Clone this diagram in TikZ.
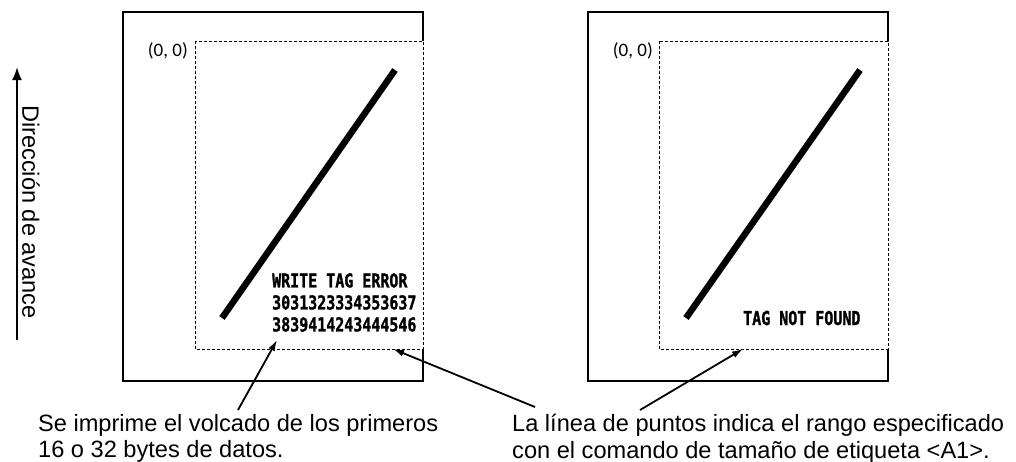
\documentclass[tikz,border=0pt]{standalone}
\usepackage{fontspec}
\setmainfont{Liberation Sans}
\newfontfamily\prnfont[FakeStretch=0.78, FakeBold=1.2]{DejaVu Sans Mono}
\newfontfamily\originfont{Carlito}
\usetikzlibrary{arrows.meta}

\tikzset{
  paper/.style={line width=2pt},
  sizearea/.style={line width=0.8pt, dash pattern=on 3pt off 2pt},
  printbar/.style={line width=6.5pt},
  printtext/.style={font=\prnfont\bfseries\fontsize{19.2}{22}\selectfont, align=left, inner sep=0pt},
  origin/.style={font=\originfont\fontsize{19}{22}\selectfont, inner sep=0pt},
  note/.style={font=\fontsize{23.6}{26.5}\selectfont, align=left, inner sep=0pt},
  pointer/.style={-{Latex[length=11pt,width=7pt]}, line width=1.8pt},
  feed/.style={-{Latex[length=13pt,width=10pt]}, line width=2pt}
}

\begin{document}
\begin{tikzpicture}[x=1pt, y=-1pt]
  \useasboundingbox (0,0) rectangle (1016,461);

  % feed direction
  \coordinate (feedstart) at (17,340);
  \coordinate (feedend) at (17,67);
  \draw[feed] (feedstart) -- (feedend);
  \node[note, rotate=-90] (feedlabel) at (31,212) {Dirección de avance};

  % left label: error with dump
  \draw[paper] (423,41) -- (423,12) -- (123,12) -- (123,381) -- (423,381) -- (423,349);
  \draw[sizearea] (195,41) rectangle (423,349);
  \node[origin, anchor=east] (orgleft) at (188,51) {(0, 0)};
  \coordinate (barlefta) at (222,318);
  \coordinate (barleftb) at (395,70);
  \draw[printbar] (barlefta) -- (barleftb);
  \node[printtext, anchor=north west] (dump) at (272,273) {WRITE TAG ERROR\\3031323334353637\\3839414243444546};

  % right label: tag not found
  \draw[paper] (888,41) -- (888,12) -- (588,12) -- (588,381) -- (888,381) -- (888,349);
  \draw[sizearea] (659,41) rectangle (888,349);
  \node[origin, anchor=east] (orgright) at (653,51) {(0, 0)};
  \coordinate (barrighta) at (686,318);
  \coordinate (barrightb) at (860,70);
  \draw[printbar] (barrighta) -- (barrightb);
  \node[printtext, anchor=base west] (notfound) at (743,325) {TAG NOT FOUND};

  % notes below
  \node[note, anchor=north west] (dumpnote) at (38,414) {Se imprime el volcado de los primeros\\16 o 32 bytes de datos.};
  \node[note, anchor=north west] (rangenote) at (512,414) {La línea de puntos indica el rango especificado\\con el comando de tamaño de etiqueta <A1>.};

  \coordinate (dumptail) at (238,410);
  \coordinate (dumptip) at (277,340);
  \coordinate (rangetaila) at (535,407);
  \coordinate (rangetipa) at (393,349);
  \coordinate (rangetailb) at (640,410);
  \coordinate (rangetipb) at (743,349);
  \draw[pointer] (dumptail) -- (dumptip);
  \draw[pointer] (rangetaila) -- (rangetipa);
  \draw[pointer] (rangetailb) -- (rangetipb);
\end{tikzpicture}
\end{document}
